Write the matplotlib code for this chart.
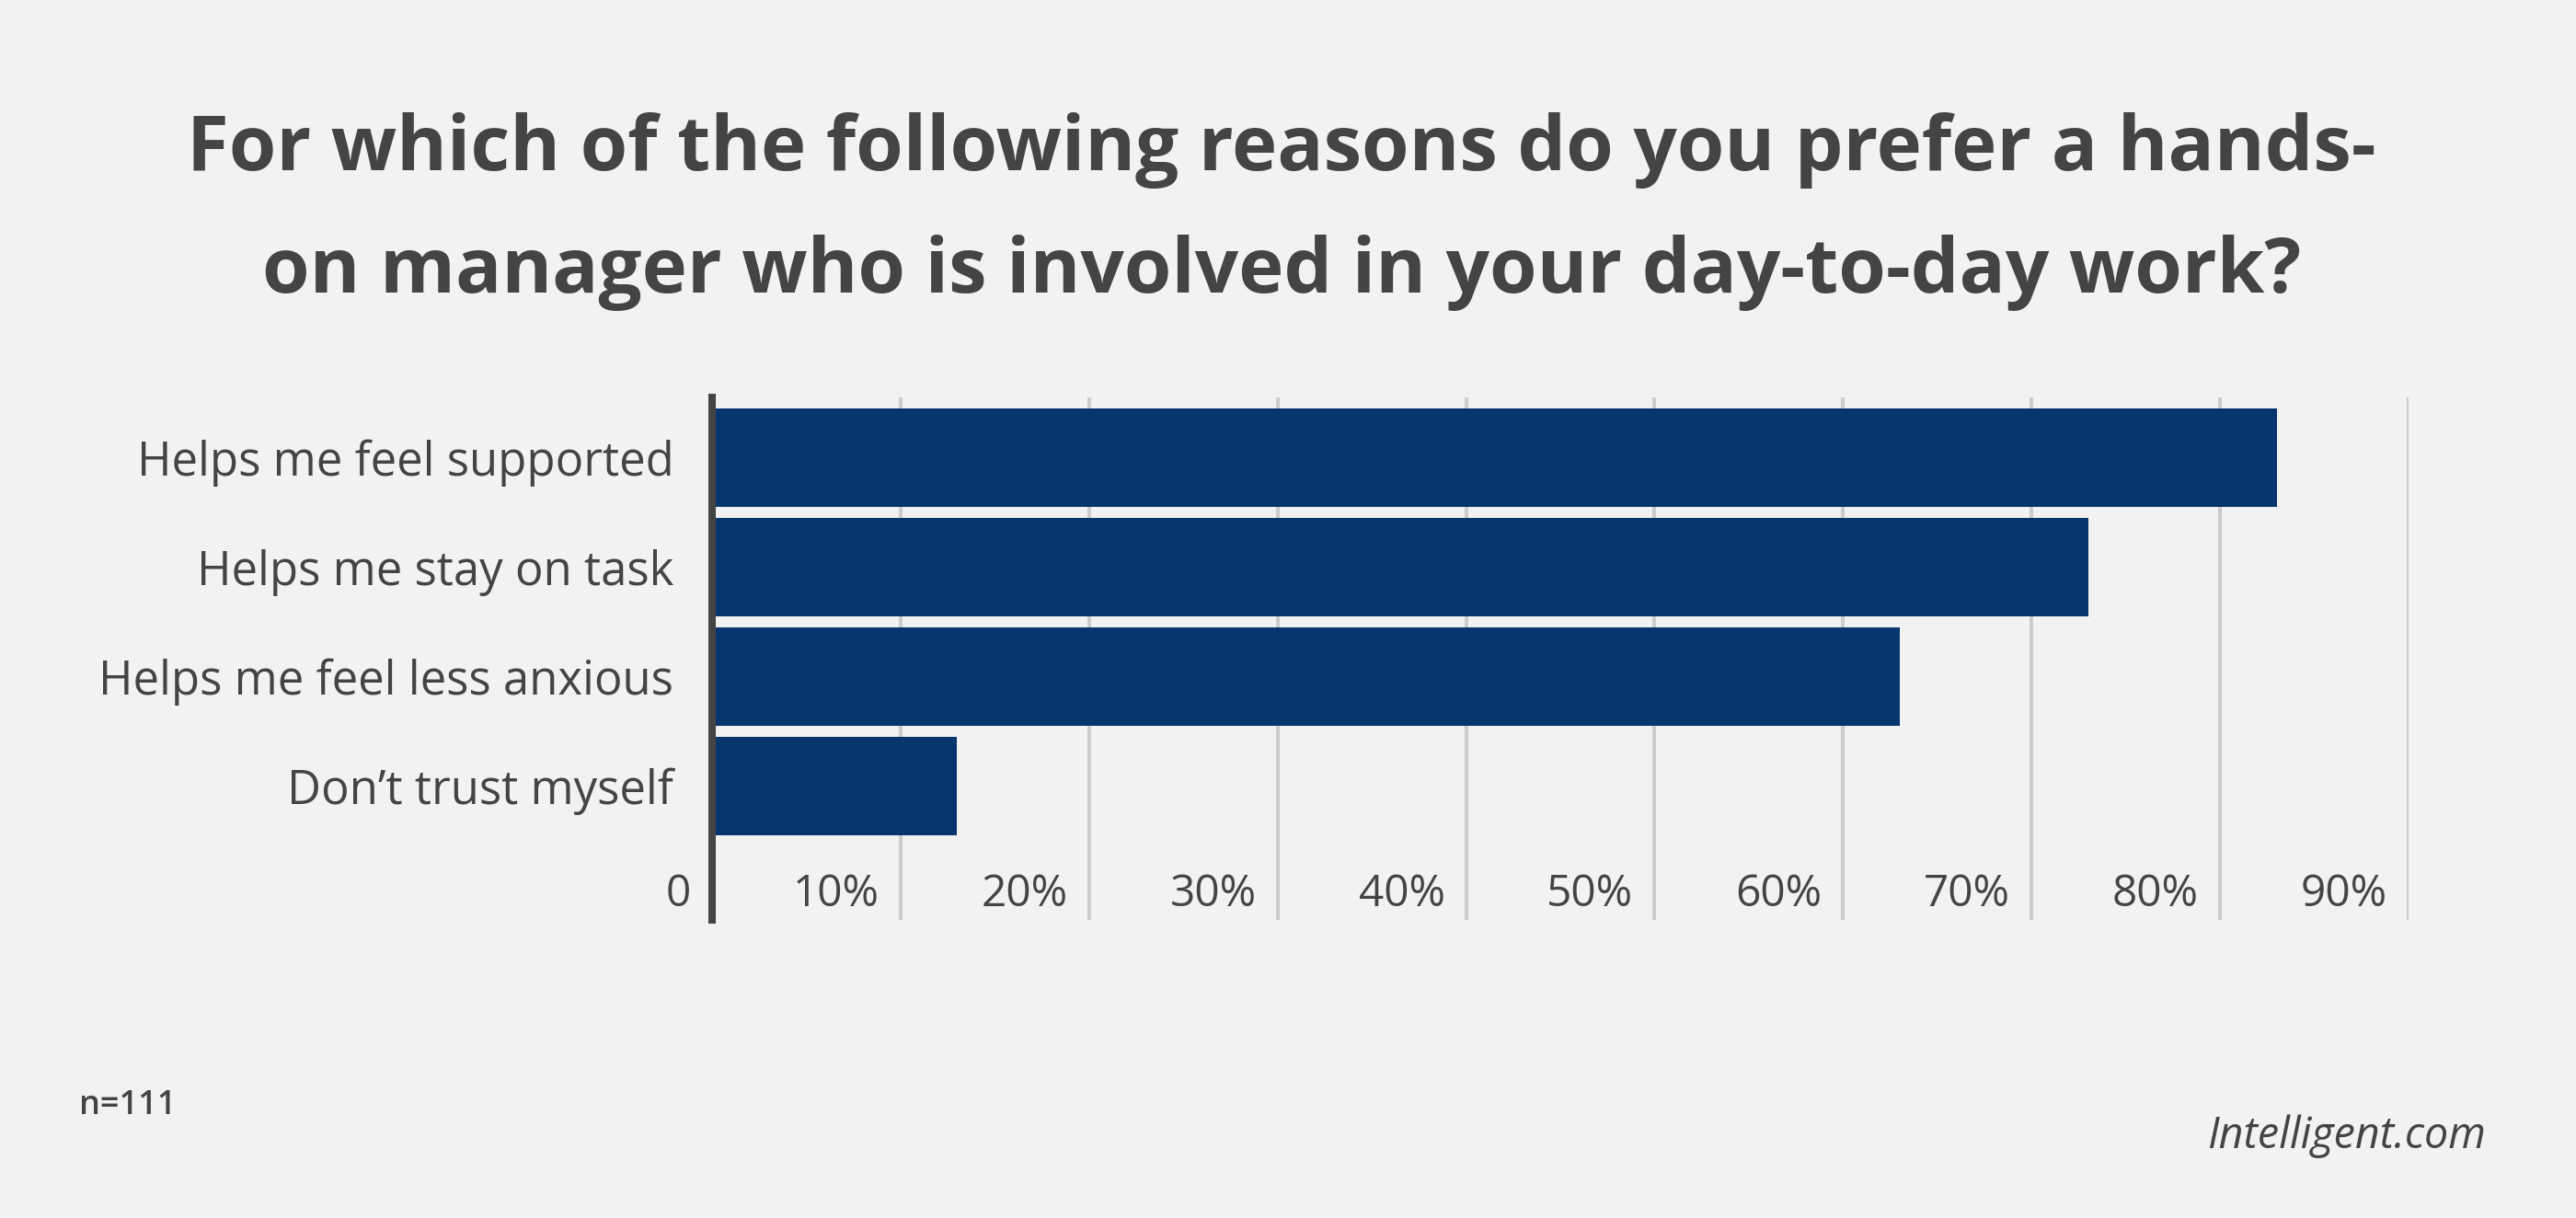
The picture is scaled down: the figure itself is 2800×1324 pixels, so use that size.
import matplotlib
matplotlib.use("Agg")
import matplotlib.pyplot as plt
import matplotlib.transforms as mtransforms

plt.rcParams['font.family'] = ['Open Sans', 'DejaVu Sans']

# ---- data ----
categories = ["Helps me feel supported", "Helps me stay on task",
              "Helps me feel less anxious", "Don\u2019t trust myself"]
values = [83, 73, 63, 13]
tick_values = [0, 10, 20, 30, 40, 50, 60, 70, 80, 90]
tick_labels = ["0", "10%", "20%", "30%", "40%", "50%", "60%", "70%", "80%", "90%"]
title = "For which of the following reasons do you prefer a hands-\non manager who is involved in your day-to-day work?"
note = "n=111"
source = "Intelligent.com"

# ---- style ----
BG = "#f2f2f2"
BAR = "#07366f"
TXT = "#444444"
GRID = "#cccccc"
W, H, DPI = 2800, 1324, 200

fig = plt.figure(figsize=(W / DPI, H / DPI), dpi=DPI, facecolor=BG)
left, right = 774 / W, 2618 / W
bottom, top = 1 - 1000 / H, 1 - 432 / H
ax = fig.add_axes([left, bottom, right - left, top - bottom], facecolor=BG)

y = list(range(len(categories)))
ax.barh(y, values, height=0.9, color=BAR, zorder=2)

ax.set_xlim(0, 90)
ax.set_ylim(3 + 1.2227, -0.5504)

ax.set_yticks(y)
ax.set_yticklabels(categories, fontsize=18.3, color=TXT)
ax.tick_params(axis='y', length=0, pad=15)

ax.set_xticks(tick_values)
ax.set_xticklabels([])
ax.tick_params(axis='x', length=0)
ax.grid(axis='x', color=GRID, linewidth=1.44, zorder=0)
ax.grid(axis='y', visible=False)

for s in ["top", "right", "bottom"]:
    ax.spines[s].set_visible(False)
ax.spines["left"].set_color(TXT)
ax.spines["left"].set_linewidth(2.9)
ax.spines["left"].set_zorder(3)

# tick labels drawn inside the plot area, right-aligned left of each gridline
off = mtransforms.ScaledTranslation(-23 / DPI, 0, fig.dpi_scale_trans)
trans = mtransforms.blended_transform_factory(ax.transData, ax.transAxes) + off
for v, lab in zip(tick_values, tick_labels):
    ax.text(v, 15 / 568, lab, transform=trans, ha='right', va='baseline',
            fontsize=17.2, color=TXT)

fig.text(0.4975, 1 - 318 / H, title, ha='center', va='baseline',
         fontsize=30.0, fontweight='bold', color=TXT, linespacing=1.8,
         multialignment='center')
fig.text(86 / W, 1 - 1211 / H, note, ha='left', va='baseline',
         fontsize=13.0, fontweight='semibold', color=TXT)
fig.text(2702 / W, 1 - 1248 / H, source, ha='right', va='baseline',
         fontsize=16.8, fontstyle='italic', color=TXT)

fig.savefig("out.png", dpi=DPI, facecolor=BG)
